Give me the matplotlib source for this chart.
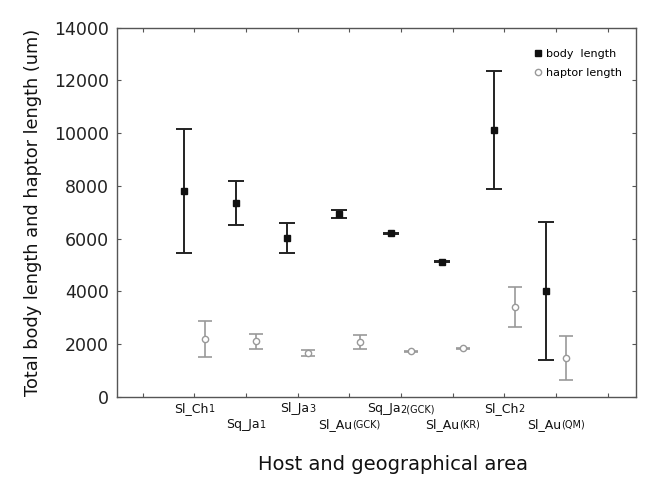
import matplotlib
matplotlib.use("Agg")
import matplotlib.pyplot as plt
from matplotlib.offsetbox import TextArea, HPacker, AnnotationBbox
from matplotlib.lines import Line2D

# categories (main part, small suffix)
cat_main = ["Sl_Ch", "Sq_Ja", "Sl_Ja", "Sl_Au", "Sq_Ja", "Sl_Au", "Sl_Ch", "Sl_Au"]
cat_suffix = ["1", "1", "3", "(GCK)", "2(GCK)", "(KR)", "2", "(QM)"]
positions = [1, 2, 3, 4, 5, 6, 7, 8]

body_mean = [7800, 7360, 6040, 6940, 6195, 5125, 10110, 4010]
body_err = [2360, 830, 570, 140, 25, 25, 2230, 2620]
haptor_mean = [2190, 2110, 1660, 2090, 1720, 1840, 3390, 1470]
haptor_err = [670, 280, 130, 270, 15, 15, 760, 840]

yticks = [0, 2000, 4000, 6000, 8000, 10000, 12000, 14000]

fig = plt.figure(figsize=(6.45, 4.78), dpi=100)
ax = fig.add_axes([0.182, 0.170, 0.804, 0.772])

off = 0.2
bx = [p - off for p in positions]
hx = [p + off for p in positions]

ax.errorbar(bx, body_mean, yerr=body_err, fmt='s', color='#111111', ecolor='#222222',
            markersize=5, elinewidth=1.4, capsize=6, capthick=1.4, zorder=3)
ax.errorbar(hx, haptor_mean, yerr=haptor_err, fmt='o', color='#999999', ecolor='#999999',
            markerfacecolor='white', markeredgecolor='#999999', markersize=4.5,
            elinewidth=1.2, capsize=5, capthick=1.2, zorder=3)

ax.set_xlim(-0.49, 9.55)
ax.set_ylim(0, 14000)
ax.set_xticks(range(0, 10))
ax.set_xticklabels([])
ax.set_yticks(yticks)
ax.set_yticklabels([str(v) for v in yticks], fontsize=12.5, color='#222222')

ax.tick_params(axis='both', direction='in', length=3, width=0.8, color='#555555',
               top=True, right=True)
ax.tick_params(axis='y', pad=6)
for s in ax.spines.values():
    s.set_color('#555555')
    s.set_linewidth(1.0)

# category labels, two staggered rows
for i, (p, m, sfx) in enumerate(zip(positions, cat_main, cat_suffix)):
    ta1 = TextArea(m, textprops=dict(fontsize=9, color='#111111'))
    ta2 = TextArea(sfx, textprops=dict(fontsize=7, color='#111111'))
    box = HPacker(children=[ta1, ta2], align="baseline", pad=0, sep=0)
    dy = -4 if i % 2 == 0 else -15
    ab = AnnotationBbox(box, (p, 0), xycoords=ax.get_xaxis_transform(),
                        xybox=(0, dy), boxcoords="offset points",
                        box_alignment=(0.5, 1), frameon=False, pad=0,
                        annotation_clip=False)
    ax.add_artist(ab)

ax.set_ylabel("Total body length and haptor length (um)", fontsize=12.8, color='#111111', labelpad=9)
fig.text(0.61, 0.008, "Host and geographical area", fontsize=14, ha='center', va='bottom', color='#111111')

handles = [Line2D([], [], marker='s', color='#111111', linestyle='none', markersize=4.5),
           Line2D([], [], marker='o', color='#999999', markerfacecolor='white',
                  linestyle='none', markersize=4.5)]
ax.legend(handles, ["body  length", "haptor length"], loc='upper right',
          bbox_to_anchor=(0.992, 0.97), frameon=False, fontsize=8,
          handletextpad=0.2, labelspacing=0.8, handlelength=1.0)

fig.savefig("out.png", dpi=100)
